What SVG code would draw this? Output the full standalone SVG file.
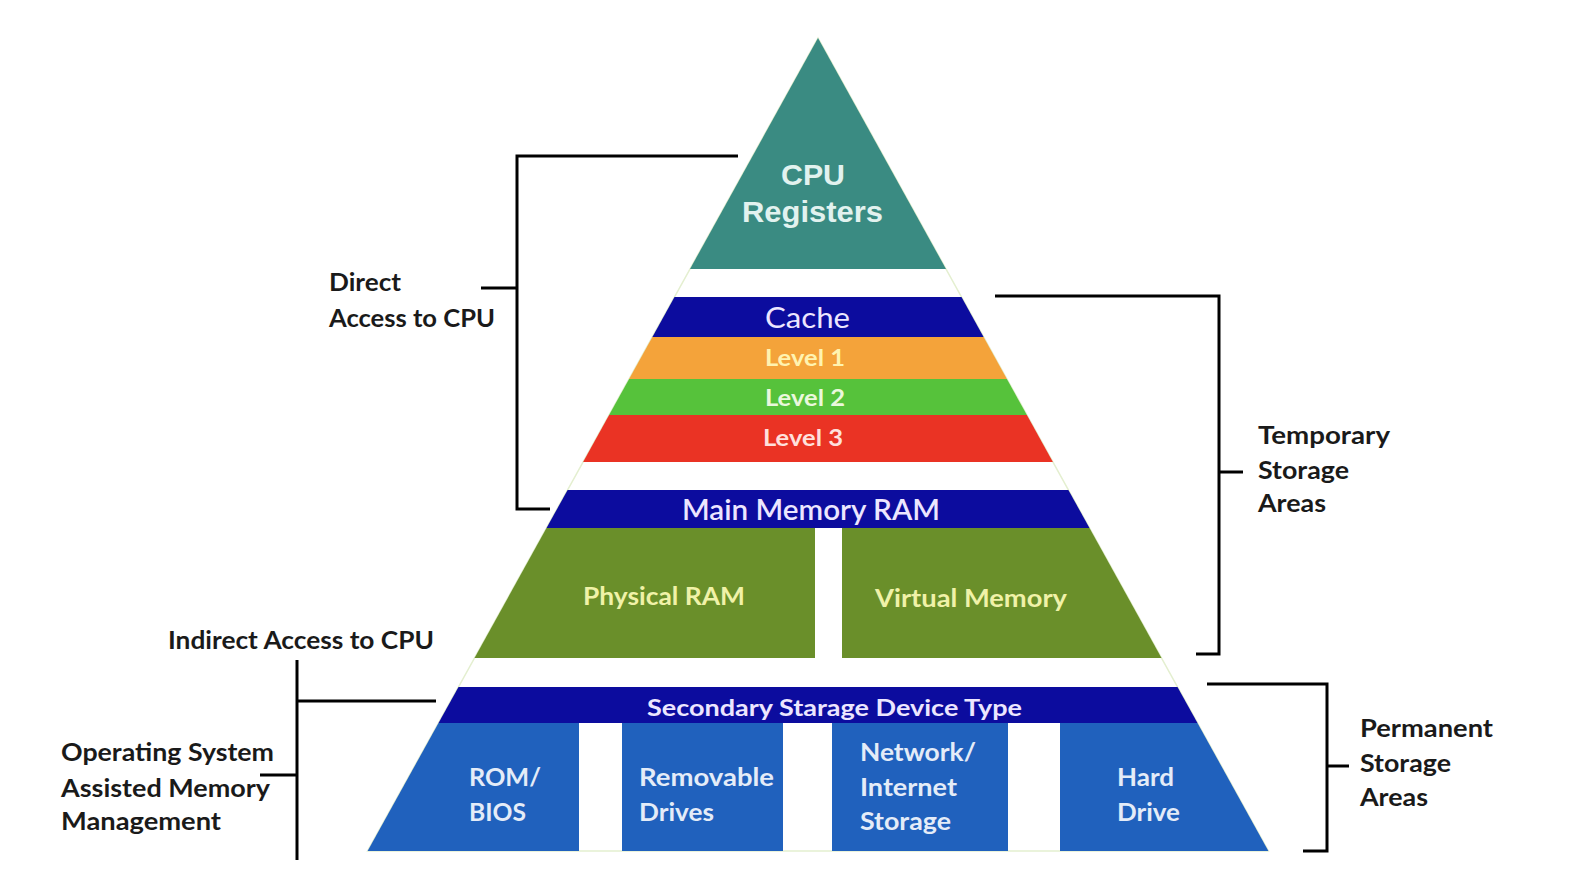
<svg xmlns="http://www.w3.org/2000/svg" width="1570" height="878" viewBox="0 0 1570 878">
<style>
text{lengthAdjust:spacingAndGlyphs}
.lbl{font-family:Lato,"Open Sans","Liberation Sans",sans-serif;font-weight:bold;font-size:24px;fill:#1a1a1a}
.in{font-family:Lato,"Open Sans","Liberation Sans",sans-serif;font-weight:bold}
.ar{font-family:"Liberation Sans",Arial,sans-serif;font-weight:bold;font-size:30px;fill:#e2f2ef}
.br{fill:none;stroke:#000;stroke-width:3}
.db{fill:#0c0c9e}
.bb{fill:#2061bd}
.ol{fill:#6a8f2a}
.w{fill:#e4ecf8;font-size:25px}
.y{fill:#f0f2a8;font-size:24px}
.lv{fill:#ece6ff}
</style>
<rect width="1570" height="878" fill="#fff"/>
<polygon points="818,38 367.6,851 1268.4,851" fill="none" stroke="#e4efd0" stroke-width="1.5"/>
<g id="cpu">
<polygon points="818,38 690,269 946,269" fill="#3a8b82"/>
<text class="ar" x="781" y="185" textLength="64" lengthAdjust="spacingAndGlyphs">CPU</text>
<text class="ar" x="742" y="222" textLength="141" lengthAdjust="spacingAndGlyphs">Registers</text>
</g>
<g id="cache">
<polygon class="db" points="674.5,297 961.5,297 983.6,337 652.4,337"/>
<text class="lv" x="765" y="328" font-family="Lato,'Open Sans',sans-serif" font-size="28" textLength="85" lengthAdjust="spacingAndGlyphs">Cache</text>
</g>
<g id="level1">
<polygon points="652.4,337 983.6,337 1006.9,379 629.1,379" fill="#f4a33a"/>
<text class="in" x="765" y="366" font-size="22" fill="#fff3b0" textLength="80" lengthAdjust="spacingAndGlyphs">Level 1</text>
</g>
<g id="level2">
<polygon points="629.1,379 1006.9,379 1026.9,415 609.1,415" fill="#56c23b"/>
<text class="in" x="765" y="406" font-size="22" fill="#eaf8dc" textLength="80" lengthAdjust="spacingAndGlyphs">Level 2</text>
</g>
<g id="level3">
<polygon points="609.1,415 1026.9,415 1052.9,462 583.1,462" fill="#ea3324"/>
<text class="in" x="763" y="446" font-size="22" fill="#ffe0dc" textLength="80" lengthAdjust="spacingAndGlyphs">Level 3</text>
</g>
<g id="main-memory">
<polygon class="db" points="567.6,490 1068.4,490 1089.5,528 546.5,528"/>
<text class="lv" x="682" y="520" font-family="Lato,'Open Sans',sans-serif" font-size="29" style="font-weight:600" textLength="258" lengthAdjust="spacingAndGlyphs">Main Memory RAM</text>
</g>
<g id="physical-ram">
<polygon class="ol" points="546.5,528 815,528 815,658 474.5,658"/>
<text class="in y" x="583" y="605" textLength="162" lengthAdjust="spacingAndGlyphs">Physical RAM</text>
</g>
<g id="virtual-memory">
<polygon class="ol" points="842,528 1089.5,528 1161.5,658 842,658"/>
<text class="in y" x="875" y="607" textLength="192" lengthAdjust="spacingAndGlyphs">Virtual Memory</text>
</g>
<g id="secondary">
<polygon class="db" points="458.5,687 1177.5,687 1197.5,723 438.5,723"/>
<text class="in lv" x="647" y="716" font-size="23" textLength="375" lengthAdjust="spacingAndGlyphs">Secondary Starage Device Type</text>
</g>
<g id="rom-bios">
<polygon class="bb" points="438.5,723 579,723 579,851 367.6,851"/>
<text class="in w" x="469" y="786" textLength="72" lengthAdjust="spacingAndGlyphs">ROM/</text>
<text class="in w" x="469" y="821" textLength="57" lengthAdjust="spacingAndGlyphs">BIOS</text>
</g>
<g id="removable">
<rect class="bb" x="622" y="723" width="161" height="128"/>
<text class="in w" x="639" y="786" textLength="135" lengthAdjust="spacingAndGlyphs">Removable</text>
<text class="in w" x="639" y="821" textLength="75" lengthAdjust="spacingAndGlyphs">Drives</text>
</g>
<g id="network">
<rect class="bb" x="832" y="723" width="176" height="128"/>
<text class="in w" x="860" y="761" textLength="116" lengthAdjust="spacingAndGlyphs">Network/</text>
<text class="in w" x="860" y="796" textLength="97" lengthAdjust="spacingAndGlyphs">Internet</text>
<text class="in w" x="860" y="830" textLength="91" lengthAdjust="spacingAndGlyphs">Storage</text>
</g>
<g id="hard-drive">
<polygon class="bb" points="1060,723 1197.5,723 1268.4,851 1060,851"/>
<text class="in w" x="1117" y="786" textLength="57" lengthAdjust="spacingAndGlyphs">Hard</text>
<text class="in w" x="1117" y="821" textLength="63" lengthAdjust="spacingAndGlyphs">Drive</text>
</g>
<g id="connectors">
<polyline class="br" points="738,156 517,156 517,509 550,509"/>
<line class="br" x1="481" y1="288" x2="517" y2="288"/>
<polyline class="br" points="995,296 1219,296 1219,654 1196,654"/>
<line class="br" x1="1219" y1="472" x2="1243" y2="472"/>
<polyline class="br" points="1207,684 1327,684 1327,851 1303,851"/>
<line class="br" x1="1327" y1="766" x2="1349" y2="766"/>
<line class="br" x1="297" y1="660" x2="297" y2="860"/>
<line class="br" x1="297" y1="701" x2="436" y2="701"/>
<line class="br" x1="260" y1="775" x2="297" y2="775"/>
</g>
<g id="labels">
<text class="lbl" x="329" y="291" textLength="72" lengthAdjust="spacingAndGlyphs">Direct</text>
<text class="lbl" x="329" y="327" textLength="166" lengthAdjust="spacingAndGlyphs">Access to CPU</text>
<text class="lbl" x="168" y="649" textLength="266" lengthAdjust="spacingAndGlyphs">Indirect Access to CPU</text>
<text class="lbl" x="61" y="761" textLength="213" lengthAdjust="spacingAndGlyphs">Operating System</text>
<text class="lbl" x="61" y="797" textLength="209" lengthAdjust="spacingAndGlyphs">Assisted Memory</text>
<text class="lbl" x="61" y="830" textLength="160" lengthAdjust="spacingAndGlyphs">Management</text>
<text class="lbl" x="1258" y="444" textLength="132" lengthAdjust="spacingAndGlyphs">Temporary</text>
<text class="lbl" x="1258" y="479" textLength="91" lengthAdjust="spacingAndGlyphs">Storage</text>
<text class="lbl" x="1258" y="512" textLength="68" lengthAdjust="spacingAndGlyphs">Areas</text>
<text class="lbl" x="1360" y="737" textLength="133" lengthAdjust="spacingAndGlyphs">Permanent</text>
<text class="lbl" x="1360" y="772" textLength="91" lengthAdjust="spacingAndGlyphs">Storage</text>
<text class="lbl" x="1360" y="806" textLength="68" lengthAdjust="spacingAndGlyphs">Areas</text>
</g>
</svg>
